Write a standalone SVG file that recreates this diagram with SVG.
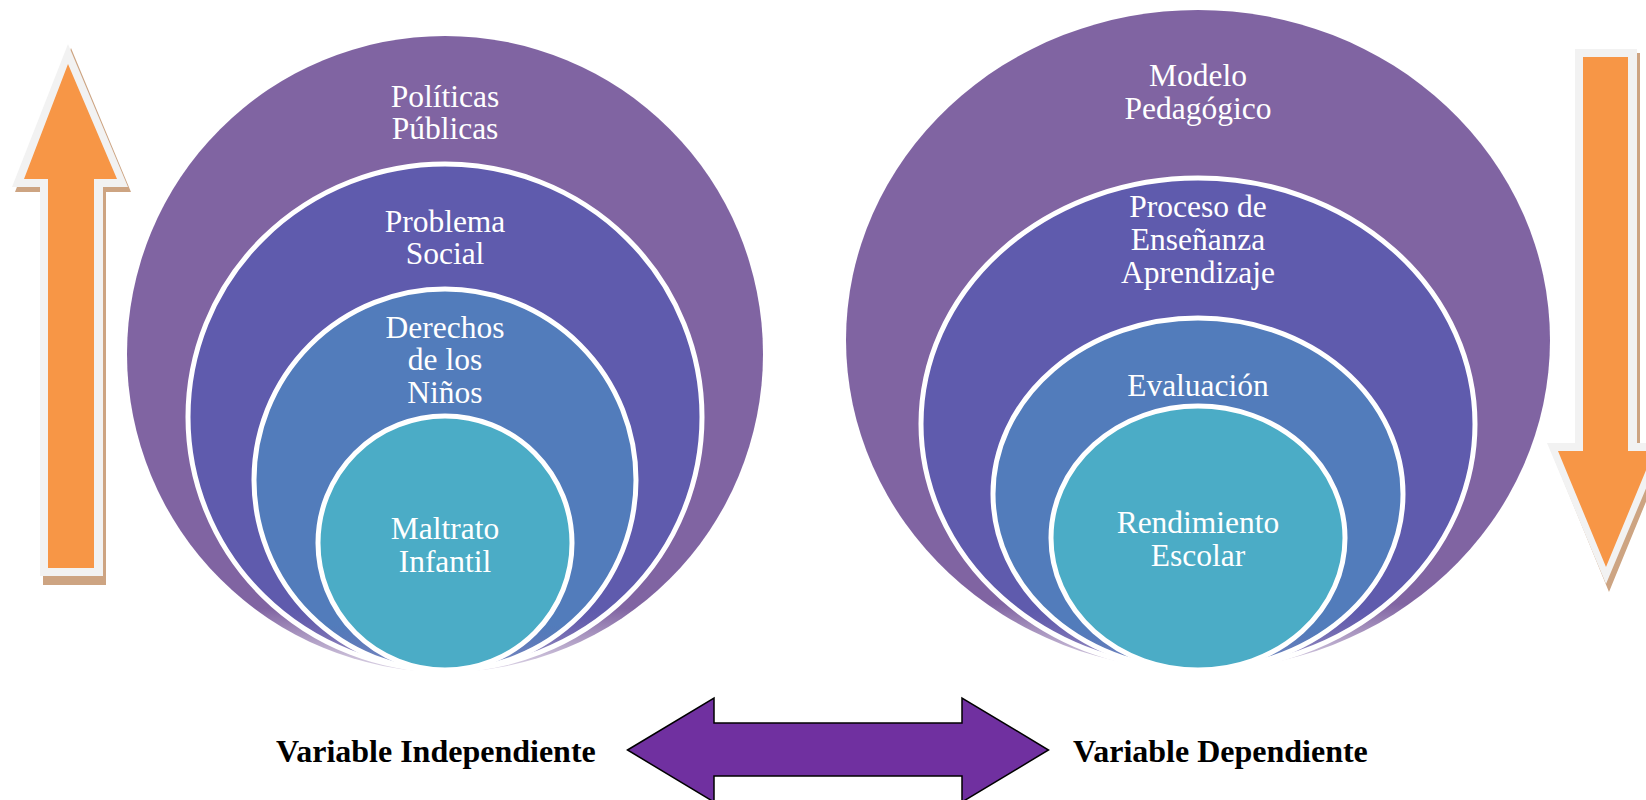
<svg xmlns="http://www.w3.org/2000/svg" width="1646" height="800" viewBox="0 0 1646 800">
<style>
.lbl{font-family:"Liberation Serif","Times New Roman",serif;font-size:31.5px;fill:#ffffff;text-anchor:middle}
.var{font-family:"Liberation Serif","Times New Roman",serif;font-size:32px;font-weight:bold;fill:#000000}
.ring{stroke:#ffffff;stroke-width:5}
.ar-shadow{fill:#CDA482}
.ar-white{fill:#F2F2F2}
.ar-orange{fill:#F79646}
</style>
<defs>
<linearGradient id="gP" x1="0" y1="0" x2="0" y2="1">
<stop offset="0" stop-color="#8064A2"/><stop offset="0.9" stop-color="#8064A2"/><stop offset="1" stop-color="#8064A2" stop-opacity="0.25"/>
</linearGradient>
<linearGradient id="gI" x1="0" y1="0" x2="0" y2="1">
<stop offset="0" stop-color="#5F5BAD"/><stop offset="0.88" stop-color="#5F5BAD"/><stop offset="1" stop-color="#5F5BAD" stop-opacity="0.3"/>
</linearGradient>
<linearGradient id="gB" x1="0" y1="0" x2="0" y2="1">
<stop offset="0" stop-color="#527CBB"/><stop offset="0.88" stop-color="#527CBB"/><stop offset="1" stop-color="#527CBB" stop-opacity="0.4"/>
</linearGradient>
</defs>

<g id="arrow-up">
<polygon class="ar-shadow" points="71,48 131,192 106,192 106,585 43,585 43,192 15,192"/>
<polygon class="ar-white" points="68,44 128,187 103,187 103,576 40,576 40,187 12,187"/>
<polygon class="ar-orange" points="68,64 117,179 94,179 94,568 48,568 48,179 24,179"/>
</g>

<g id="arrow-down">
<polygon class="ar-shadow" points="1578,53 1640,53 1640,448 1668,448 1609,592 1550,448 1578,448"/>
<polygon class="ar-white" points="1575,49 1637,49 1637,443 1665,443 1606,584 1547,443 1575,443"/>
<polygon class="ar-orange" points="1583,57 1628,57 1628,451 1654,451 1606,567 1558,451 1583,451"/>
</g>

<g id="left-set">
<g id="politicas">
<circle cx="445" cy="354" r="318" fill="url(#gP)"/>
<text class="lbl" x="445" y="107">Políticas</text>
<text class="lbl" x="445" y="139">Públicas</text>
</g>
<g id="problema">
<ellipse class="ring" cx="445" cy="417" rx="257" ry="253" fill="url(#gI)"/>
<text class="lbl" x="445" y="232">Problema</text>
<text class="lbl" x="445" y="264">Social</text>
</g>
<g id="derechos">
<circle class="ring" cx="445" cy="480" r="191" fill="url(#gB)"/>
<text class="lbl" x="445" y="338">Derechos</text>
<text class="lbl" x="445" y="370">de los</text>
<text class="lbl" x="445" y="403">Niños</text>
</g>
<g id="maltrato">
<circle class="ring" cx="445" cy="543" r="127" fill="#4BACC6"/>
<text class="lbl" x="445" y="539">Maltrato</text>
<text class="lbl" x="445" y="572">Infantil</text>
</g>
</g>

<g id="right-set">
<g id="modelo">
<ellipse cx="1198" cy="340" rx="352" ry="330" fill="url(#gP)"/>
<text class="lbl" x="1198" y="86">Modelo</text>
<text class="lbl" x="1198" y="119">Pedagógico</text>
</g>
<g id="proceso">
<ellipse class="ring" cx="1198" cy="424" rx="277" ry="246" fill="url(#gI)"/>
<text class="lbl" x="1198" y="217">Proceso de</text>
<text class="lbl" x="1198" y="250">Enseñanza</text>
<text class="lbl" x="1198" y="283">Aprendizaje</text>
</g>
<g id="evaluacion">
<ellipse class="ring" cx="1198" cy="494" rx="205" ry="176" fill="url(#gB)"/>
<text class="lbl" x="1198" y="396">Evaluación</text>
</g>
<g id="rendimiento">
<ellipse class="ring" cx="1198" cy="538" rx="147" ry="132" fill="#4BACC6"/>
<text class="lbl" x="1198" y="533">Rendimiento</text>
<text class="lbl" x="1198" y="566">Escolar</text>
</g>
</g>

<g id="connectors">
<polygon points="627.5,750 714,698 714,723 962,723 962,698 1048.5,750 962,802 962,776 714,776 714,802" fill="#7030A0" stroke="#000000" stroke-width="1.5" stroke-linejoin="miter"/>
</g>

<text class="var" x="276" y="762">Variable Independiente</text>
<text class="var" x="1073" y="762">Variable Dependiente</text>
</svg>
